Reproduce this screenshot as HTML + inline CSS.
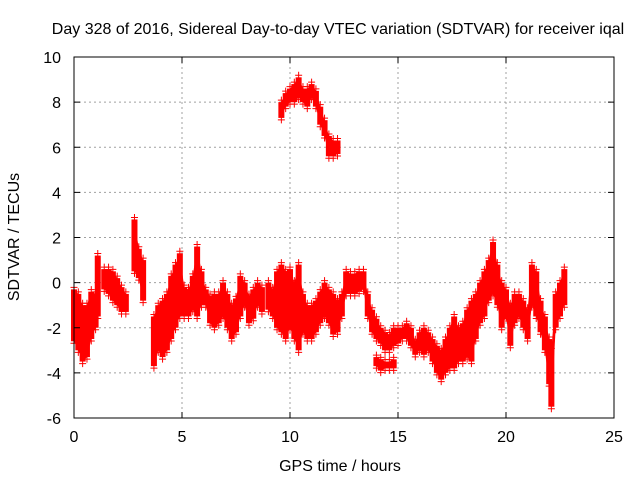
<!DOCTYPE html>
<html><head><meta charset="utf-8"><style>
body{margin:0;background:#fff}
svg text{font-family:"Liberation Sans",sans-serif;font-size:16px;fill:#000}
</style></head><body>
<svg id="chart" width="640" height="480" xmlns="http://www.w3.org/2000/svg">
<rect width="640" height="480" fill="#fff"/>
<text x="338" y="34" text-anchor="middle">Day 328 of 2016, Sidereal Day-to-day VTEC variation (SDTVAR) for receiver iqal</text>
<text x="340" y="471" text-anchor="middle">GPS time / hours</text>
<text transform="translate(19,237) rotate(-90)" text-anchor="middle">SDTVAR / TECUs</text>
<g id="grid"></g><g id="marks"></g>
<rect x="74" y="57" width="540" height="361" fill="none" stroke="#000" stroke-width="1"/>
<g id="ticks"></g>
</svg>
<script>
const xTicks=[0,5,10,15,20,25];
const yTicks=[-6,-4,-2,0,2,4,6,8,10];
const times=[0,0.2,0.4,0.6,0.8,1.0,1.1,1.4,1.6,1.8,2.0,2.2,2.4,2.8,3.0,3.2,3.7,3.9,4.1,4.3,4.5,4.7,4.9,5.1,5.3,5.5,5.7,5.9,6.1,6.3,6.5,6.7,6.9,7.1,7.3,7.5,7.7,7.9,8.1,8.3,8.5,8.7,9.0,9.2,9.4,9.6,9.8,10.0,10.2,10.4,10.6,10.8,11.0,11.2,11.4,11.6,11.8,12.0,12.2,12.4,12.6,12.8,13.0,13.2,13.4,13.6,13.8,14.0,14.2,14.4,14.6,14.8,15.0,15.2,15.4,15.6,15.8,16.0,16.2,16.4,16.6,16.8,17.0,17.2,17.4,17.6,17.8,18.0,18.2,18.4,18.6,18.8,19.0,19.2,19.4,19.6,19.8,20.0,20.2,20.4,20.6,20.8,21.0,21.2,21.4,21.6,21.8,22.0,22.1,22.3,22.5,22.7];
const lows=[-2.6,-3.0,-3.5,-3.3,-2.5,-2.0,-1.5,-0.3,-0.5,-0.8,-1.0,-1.3,-1.3,0.5,0.2,-0.8,-3.7,-3.0,-3.3,-3.0,-2.5,-2.0,-1.5,-1.5,-1.5,-1.2,-1.5,-1.0,-1.0,-1.8,-2.0,-1.8,-1.5,-2.0,-2.5,-2.2,-1.5,-1.0,-1.8,-1.6,-1.0,-1.3,-1.2,-1.5,-2.0,-2.2,-2.5,-2.0,-2.5,-3.0,-2.2,-2.5,-2.5,-2.2,-1.8,-1.5,-1.8,-2.3,-2.2,-1.5,-0.5,-0.5,-0.5,-0.4,-0.3,-1.5,-2.2,-2.5,-2.7,-3.0,-3.0,-2.8,-2.7,-2.5,-2.5,-2.8,-3.2,-3.0,-3.2,-3.0,-3.5,-4.0,-4.3,-4.0,-3.8,-3.8,-3.5,-3.5,-3.3,-3.5,-2.5,-1.8,-1.5,-0.8,-0.5,-1.0,-2.0,-1.5,-2.8,-1.8,-1.5,-2.0,-2.5,-1.0,-1.5,-2.2,-3.0,-4.5,-5.5,-2.0,-1.5,-1.0];
const highs=[-0.3,-0.5,-1.0,-1.0,-0.4,-0.5,1.2,0.6,0.6,0.5,0.2,-0.2,-0.5,2.8,1.5,1.0,-1.5,-1.0,-0.8,-0.5,0.3,0.8,1.3,-0.2,-0.3,0.3,1.6,0.5,-0.3,-0.6,-0.5,-0.5,0.0,-0.5,-1.0,-0.7,0.3,0.0,-0.6,-0.3,0.0,-0.2,0.0,-0.3,0.5,0.8,0.5,0.6,0.0,0.8,-0.5,-1.0,-1.0,-0.8,-0.4,0.0,-0.3,-0.5,-0.8,-0.5,0.5,0.4,0.4,0.5,0.5,-0.5,-1.2,-1.6,-2.0,-2.2,-2.3,-2.0,-2.0,-2.0,-1.8,-2.0,-2.6,-2.2,-2.0,-2.2,-2.5,-2.8,-3.0,-2.5,-2.0,-1.5,-2.0,-1.8,-1.2,-0.8,-0.5,0.0,0.5,1.0,1.8,0.8,0.0,-0.3,-1.0,-0.5,-0.5,-0.8,-1.2,0.8,0.5,-0.8,-1.5,-2.5,-3.0,-0.5,0.0,0.6];
const upperTimes=[9.6,9.8,10.0,10.2,10.4,10.6,10.8,11.0,11.2,11.4,11.6,11.8,12.0,12.2];
const upperLows=[7.3,7.8,8.0,8.0,8.2,8.0,7.8,8.2,7.8,7.0,6.5,5.6,5.6,5.7];
const upperHighs=[8.0,8.4,8.6,8.8,9.1,8.6,8.6,8.8,8.5,7.8,7.2,6.5,6.3,6.3];
const dipTimes=[14.0,14.2,14.4,14.6,14.8];
const dipLows=[-3.7,-3.9,-3.8,-3.8,-3.8];
const dipHighs=[-3.3,-3.4,-3.5,-3.5,-3.4];

const NS="http://www.w3.org/2000/svg";
const X=t=>74+t*540/25;
const Y=v=>418-(v+6)*361/16;
const grid=document.getElementById('grid'),marks=document.getElementById('marks'),ticks=document.getElementById('ticks');
function mk(tag,attrs,parent){const e=document.createElementNS(NS,tag);for(const k in attrs)e.setAttribute(k,attrs[k]);parent.appendChild(e);return e;}
xTicks.forEach(t=>{
  if(t>0&&t<25){const g=mk('line',{x1:X(t),x2:X(t),y1:57,y2:418,stroke:'#a0a0a0','stroke-dasharray':'2,3'},grid);
  
  }
  const tk=mk('path',{d:`M${X(t)},418v-6M${X(t)},57v6`,stroke:'#000'},ticks);
  
  
  const l=mk('text',{x:X(t),y:442,'text-anchor':'middle'},ticks);l.textContent=t;
  
  
});
yTicks.forEach(v=>{
  if(v>-6&&v<10){const g=mk('line',{x1:74,x2:614,y1:Y(v),y2:Y(v),stroke:'#a0a0a0','stroke-dasharray':'2,3'},grid);
  
  }
  const tk=mk('path',{d:`M74,${Y(v)}h6M614,${Y(v)}h-6`,stroke:'#000'},ticks);
  
  
  const l=mk('text',{x:61,y:Y(v)+6,'text-anchor':'end'},ticks);l.textContent=v;
  
  
});
function plus(x,y){const p=mk('path',{d:`M${x-3.5},${y}h7M${x},${y-3.5}v7`,stroke:'#f00','stroke-width':1},marks);
  
  }
function series(ts,lo,hi){
  ts.forEach((t,i)=>{
    const x=X(t),y1=Y(hi[i]),y2=Y(lo[i]);
    const r=mk('rect',{x:x-3,y:y1,width:6,height:Math.max(1,y2-y1),fill:'#f00'},marks);
    
    
    if(i+1<ts.length&&ts[i+1]-t<=0.25){
      const x2=X(ts[i+1]);
      const pg=mk('polygon',{points:`${x},${y1} ${x2},${Y(hi[i+1])} ${x2},${Y(lo[i+1])} ${x},${y2}`,fill:'#f00'},marks);
      
      
    }
    plus(x,y1-2);plus(x,y2+2);
  });
}
series(times,lows,highs);
series(upperTimes,upperLows,upperHighs);
series(dipTimes,dipLows,dipHighs);
</script>
</body></html>
